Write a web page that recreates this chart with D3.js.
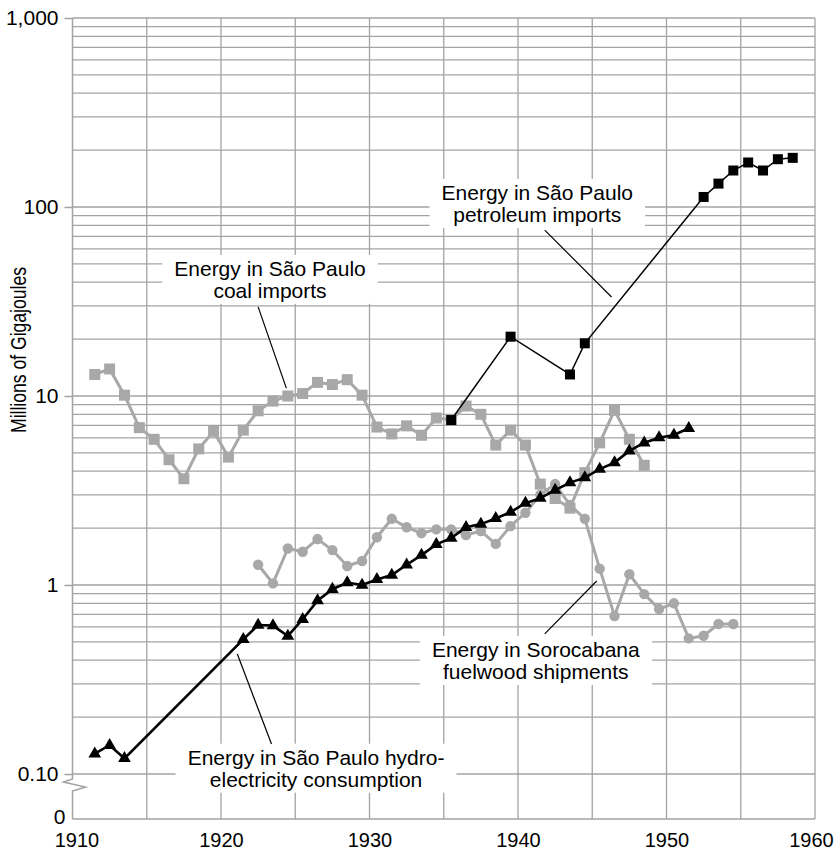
<html>
  <head>
    <meta charset="utf-8">
    <script src="https://d3js.org/d3.v7.min.js"></script>
    <style>
      body { margin: 0; background: #fff; }
      text { font-family: "Liberation Sans", Arial, sans-serif; fill: #000; }
    </style>
  </head>
  <body>
    <div id="vis"></div>
    <script>
      // series (millions of GJ), one value per year
      const coalYears = [1911, 1912, 1913, 1914, 1915, 1916, 1917, 1918, 1919, 1920,
        1921, 1922, 1923, 1924, 1925, 1926, 1927, 1928, 1929, 1930,
        1931, 1932, 1933, 1934, 1935, 1936, 1937, 1938, 1939, 1940,
        1941, 1942, 1943, 1944, 1945, 1946, 1947, 1948];
      const coalValues = [13.0, 13.9, 10.1, 6.8, 5.9, 4.6, 3.65, 5.25, 6.5, 4.75,
        6.6, 8.35, 9.4, 10.0, 10.3, 11.8, 11.5, 12.2, 10.1, 6.85,
        6.3, 6.95, 6.2, 7.65, 7.5, 8.85, 8.0, 5.5, 6.6, 5.5,
        3.42, 2.87, 2.55, 3.93, 5.65, 8.4, 5.9, 4.3];

      const woodYears = [1922, 1923, 1924, 1925, 1926, 1927, 1928, 1929, 1930,
        1931, 1932, 1933, 1934, 1935, 1936, 1937, 1938, 1939, 1940,
        1941, 1942, 1943, 1944, 1945, 1946, 1947, 1948, 1949, 1950,
        1951, 1952, 1953, 1954];
      const woodValues = [1.28, 1.02, 1.56, 1.50, 1.75, 1.53, 1.26, 1.34, 1.79,
        2.24, 2.02, 1.88, 1.97, 1.97, 1.84, 1.93, 1.65, 2.05, 2.41,
        3.0, 3.42, 2.65, 2.24, 1.22, 0.685, 1.14, 0.895, 0.746, 0.80,
        0.522, 0.539, 0.622, 0.622];

      const hydroYears = [1911, 1912, 1913, 1921, 1922, 1923, 1924, 1925, 1926,
        1927, 1928, 1929, 1930, 1931, 1932, 1933, 1934, 1935, 1936,
        1937, 1938, 1939, 1940, 1941, 1942, 1943, 1944, 1945, 1946,
        1947, 1948, 1949, 1950, 1951];
      const hydroValues = [0.128, 0.142, 0.121, 0.516, 0.614, 0.61, 0.537, 0.659, 0.826,
        0.95, 1.03, 1.0, 1.07, 1.13, 1.28, 1.44, 1.64, 1.77, 2.02,
        2.10, 2.25, 2.43, 2.71, 2.88, 3.18, 3.48, 3.70, 4.10, 4.44,
        5.12, 5.66, 6.02, 6.22, 6.75];

      const petroYears = [1935, 1939, 1943, 1944, 1952, 1953, 1954, 1955, 1956, 1957, 1958];
      const petroValues = [7.46, 20.6, 13.0, 19.0, 113, 133, 156, 172, 156, 179, 182];

      const xTicks = [1910, 1920, 1930, 1940, 1950, 1960];
      const xGrid = [1910, 1915, 1920, 1925, 1930, 1935, 1940, 1945, 1950, 1955, 1960];
      const yTicks = [1000, 100, 10, 1, 0.1];
      const yTickLabels = ["1,000", "100", "10", "1", "0.10"];

      // callouts: text centre + first baseline, and leader from box to series
      const notes = [
        { lines: ["Energy in São Paulo", "coal imports"], x: 1923.3, y: 43.2, from: [1922.5, 29.6], to: [1924.4, 11.0] },
        { lines: ["Energy in São Paulo", "petroleum imports"], x: 1941.3, y: 109, from: [1941.8, 75.5], to: [1946.3, 33.4] },
        { lines: ["Energy in Sorocabana", "fuelwood shipments"], x: 1941.2, y: 0.416, from: [1941.8, 0.551], to: [1945.3, 1.05] },
        { lines: ["Energy in São Paulo hydro-", "electricity consumption"], x: 1926.4, y: 0.112, from: [1923.4, 0.144], to: [1921.1, 0.431] }
      ];

      const width = 836, height = 851;
      const gridColor = "#a3a3a3", grey = "#a8a8a8";

      const svg = d3.select("#vis").append("svg")
        .attr("width", width).attr("height", height);

      const x = d3.scaleLinear().domain([1910, 1960]).range([72.5, 815]);
      const y = d3.scaleLog().domain([0.1, 1000]).range([774, 18]);
      const yZero = 819;
      const xMid = d => x(d + 0.5); // annual values sit mid-year

      // grid
      svg.append("g").selectAll("line").data(y.ticks())
        .join("line")
        .attr("x1", x(1910)).attr("x2", x(1960))
        .attr("y1", d => y(d)).attr("y2", d => y(d))
        .attr("stroke", gridColor).attr("stroke-width", 1.3);
      svg.append("g").selectAll("line").data(xGrid.slice(1))
        .join("line")
        .attr("x1", d => x(d)).attr("x2", d => x(d))
        .attr("y1", y(1000)).attr("y2", yZero)
        .attr("stroke", gridColor).attr("stroke-width", 1.3);
      svg.append("line")
        .attr("x1", x(1910)).attr("x2", x(1960))
        .attr("y1", yZero).attr("y2", yZero)
        .attr("stroke", gridColor).attr("stroke-width", 1.5);

      // left axis line with a break between 0.10 and 0
      const ax = x(1910);
      svg.append("path")
        .attr("d", `M${ax},${y(1000)}V${y(0.1) + 5}L${ax - 9},${y(0.1) + 8}L${ax + 13},${y(0.1) + 13}L${ax},${y(0.1) + 17}V${yZero}`)
        .attr("fill", "none").attr("stroke", gridColor).attr("stroke-width", 1.5);

      const yAxis = svg.append("g")
        .attr("transform", `translate(${ax},0)`)
        .call(d3.axisLeft(y).tickValues(yTicks)
          .tickFormat((d, i) => yTickLabels[i]).tickSize(8).tickPadding(6));
      yAxis.select(".domain").remove();
      yAxis.selectAll("line").attr("stroke", gridColor).attr("stroke-width", 1.5);
      yAxis.selectAll("text").style("font-size", "21px");
      svg.append("text")
        .attr("x", ax - 7).attr("y", yZero - 2)
        .attr("text-anchor", "end").attr("dy", "0.35em")
        .style("font-size", "21px").text("0");

      const xAxis = svg.append("g")
        .attr("transform", `translate(0,${yZero})`)
        .call(d3.axisBottom(x).tickValues(xTicks).tickFormat(d3.format("d"))
          .tickSize(0).tickPadding(14));
      xAxis.select(".domain").remove();
      xAxis.selectAll("text").style("font-size", "20px")
        .attr("dx", d => d === 1910 ? 4 : d === 1960 ? -4 : 0);

      svg.append("text")
        .attr("transform", `translate(26,350) rotate(-90)`)
        .attr("text-anchor", "middle")
        .attr("textLength", 166).attr("lengthAdjust", "spacingAndGlyphs")
        .style("font-family", "'Liberation Sans Narrow', 'Liberation Sans', Arial, sans-serif")
        .style("font-size", "22px")
        .text("Millions of Gigajoules");

      // callout boxes, leaders
      const noteG = svg.append("g");
      notes.forEach(n => {
        const g = noteG.append("g");
        const t = g.append("text")
          .attr("text-anchor", "middle")
          .style("font-size", "21px");
        n.lines.forEach((l, i) => {
          t.append("tspan").attr("x", x(n.x)).attr("y", y(n.y) + i * 22).text(l);
        });
        const bb = t.node().getBBox();
        g.insert("rect", "text")
          .attr("x", bb.x - 12).attr("y", bb.y - 2)
          .attr("width", bb.width + 24).attr("height", bb.height + 4)
          .attr("fill", "#fff");
        noteG.append("line")
          .attr("x1", x(n.from[0])).attr("y1", y(n.from[1]))
          .attr("x2", x(n.to[0])).attr("y2", y(n.to[1]))
          .attr("stroke", "#000").attr("stroke-width", 1.2);
      });

      const line = d3.line().x(d => xMid(d[0])).y(d => y(d[1]));
      const zip = (a, b) => a.map((d, i) => [d, b[i]]);

      const coal = zip(coalYears, coalValues);
      const wood = zip(woodYears, woodValues);
      const hydro = zip(hydroYears, hydroValues);
      const petro = zip(petroYears, petroValues);

      // coal imports
      svg.append("path").datum(coal).attr("d", line)
        .attr("fill", "none").attr("stroke", grey).attr("stroke-width", 3);
      svg.append("g").selectAll("rect").data(coal).join("rect")
        .attr("x", d => xMid(d[0]) - 5.5).attr("y", d => y(d[1]) - 5.5)
        .attr("width", 11).attr("height", 11).attr("fill", grey);

      // fuelwood
      svg.append("path").datum(wood).attr("d", line)
        .attr("fill", "none").attr("stroke", grey).attr("stroke-width", 3);
      svg.append("g").selectAll("circle").data(wood).join("circle")
        .attr("cx", d => xMid(d[0])).attr("cy", d => y(d[1]))
        .attr("r", 5.2).attr("fill", grey);

      // hydroelectricity
      svg.append("path").datum(hydro).attr("d", line)
        .attr("fill", "none").attr("stroke", "#000").attr("stroke-width", 2.6);
      svg.append("g").selectAll("path").data(hydro).join("path")
        .attr("d", d3.symbol(d3.symbolTriangle, 70))
        .attr("transform", d => `translate(${xMid(d[0])},${y(d[1])})`)
        .attr("fill", "#000");

      // petroleum
      svg.append("path").datum(petro).attr("d", line)
        .attr("fill", "none").attr("stroke", "#000").attr("stroke-width", 1.5);
      svg.append("g").selectAll("rect").data(petro).join("rect")
        .attr("x", d => xMid(d[0]) - 5).attr("y", d => y(d[1]) - 5)
        .attr("width", 10).attr("height", 10).attr("fill", "#000");
    </script>
  </body>
</html>
